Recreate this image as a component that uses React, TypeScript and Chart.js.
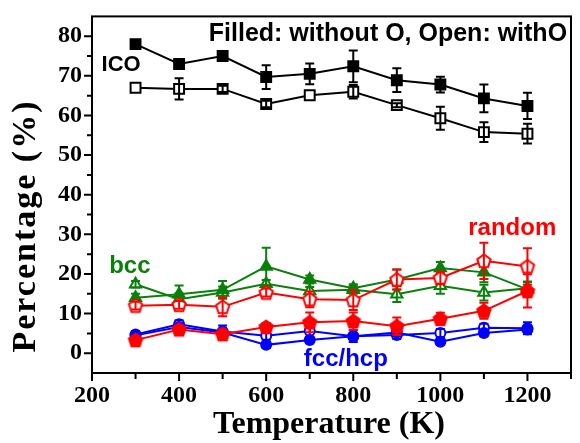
import { useEffect, useRef } from 'react';
import { Chart, registerables } from 'chart.js';

Chart.register(...registerables);

// ---- data ----
const temperatures = [300, 400, 500, 600, 700, 800, 900, 1000, 1100, 1200];

const icoWithoutO = [78.0, 73.0, 75.0, 69.7, 70.5, 72.4, 68.9, 67.8, 64.3, 62.4];
const icoWithoutOErr = [1.0, 1.0, 1.0, 3.0, 2.6, 4.0, 3.0, 2.0, 3.5, 3.3];
const icoWithO = [67.0, 66.7, 66.7, 62.9, 65.1, 66.0, 62.6, 59.3, 55.8, 55.4];
const icoWithOErr = [0, 2.7, 0.8, 0.8, 0, 1.7, 0.5, 2.9, 2.5, 2.5];

const bccWithoutO = [14.0, 14.9, 16.0, 21.9, 18.6, 16.4, 18.6, 21.5, 20.4, 16.1];
const bccWithoutOErr = [1.0, 2.2, 2.2, 4.7, 1.0, 1.0, 2.5, 1.5, 2.5, 2.0];
const bccWithO = [17.4, 13.6, 15.3, 17.5, 15.7, 16.0, 14.9, 17.0, 15.3, 16.4];
const bccWithOErr = [0.8, 1.5, 1.5, 1.0, 1.0, 1.0, 2.0, 2.0, 2.0, 1.5];

const randomWithoutO = [3.3, 6.0, 4.8, 6.6, 7.8, 8.1, 6.8, 8.7, 10.7, 15.7];
const randomWithoutOErr = [1.0, 1.0, 1.2, 1.0, 2.5, 2.2, 2.2, 1.5, 2.0, 4.2];
const randomWithO = [12.0, 12.2, 11.7, 15.3, 13.6, 13.4, 18.6, 19.0, 23.3, 21.9];
const randomWithOErr = [1.0, 1.0, 2.4, 1.0, 2.0, 2.5, 2.5, 1.5, 4.6, 4.6];

const fccWithoutO = [4.5, 6.6, 5.2, 2.1, 3.3, 4.3, 5.2, 2.9, 5.1, 6.0];
const fccWithoutOErr = [0.8, 0.8, 0.8, 0.8, 0.8, 0.8, 0.8, 0.8, 0.8, 0.8];
const fccWithO = [4.7, 7.3, 5.5, 4.4, 5.6, 4.3, 4.6, 5.1, 6.4, 6.3];
const fccWithOErr = [0.8, 1.0, 1.5, 1.0, 1.5, 1.5, 1.0, 1.0, 1.0, 1.5];

const xTickValues = [200, 300, 400, 500, 600, 700, 800, 900, 1000, 1100, 1200, 1300];
const xTickLabels = ['200', '', '400', '', '600', '', '800', '', '1000', '', '1200', ''];
const yTickValues = [0, 5, 10, 15, 20, 25, 30, 35, 40, 45, 50, 55, 60, 65, 70, 75, 80];
const yTickLabels = ['0', '', '10', '', '20', '', '30', '', '40', '', '50', '', '60', '', '70', '', '80'];

const xTitle = 'Temperature (K)';
const yTitle = 'Percentage (%)';
const legendNote = 'Filled: without O, Open: withO';
const labelICO = 'ICO';
const labelBcc = 'bcc';
const labelRandom = 'random';
const labelFcc = 'fcc/hcp';

const BLACK = '#000000';
const GREEN = '#0a800a';
const RED = '#ff0000';
const BLUE = '#0000ff';

const SERIF = "'Liberation Serif', 'Times New Roman', serif";
const SANS = "'Liberation Sans', Arial, sans-serif";

function pentagon(fill: string, stroke: string): HTMLCanvasElement {
  const s = 18;
  const c = document.createElement('canvas');
  c.width = s;
  c.height = s;
  const ctx = c.getContext('2d')!;
  const r = 7;
  ctx.beginPath();
  for (let i = 0; i < 5; i++) {
    const a = -Math.PI / 2 + (i * 2 * Math.PI) / 5;
    const x = s / 2 + r * Math.cos(a);
    const y = s / 2 + 0.5 + r * Math.sin(a);
    if (i === 0) ctx.moveTo(x, y);
    else ctx.lineTo(x, y);
  }
  ctx.closePath();
  ctx.fillStyle = fill;
  ctx.fill();
  ctx.lineWidth = 2;
  ctx.strokeStyle = stroke;
  ctx.stroke();
  return c;
}

function series(
  label: string,
  values: number[],
  errors: number[],
  color: string,
  open: boolean,
  pointStyle: any,
  radius: number
) {
  return {
    label,
    data: temperatures.map((t, i) => ({ x: t, y: values[i] })),
    errors,
    borderColor: color,
    borderWidth: 2,
    pointStyle,
    pointRadius: radius,
    pointHoverRadius: radius,
    pointBackgroundColor: open ? '#ffffff' : color,
    pointBorderColor: color,
    pointBorderWidth: 2,
    fill: false,
    tension: 0,
  };
}

const errorBarPlugin = {
  id: 'errorBars',
  afterDatasetDraw(chart: any, args: any) {
    const ds = chart.data.datasets[args.index];
    const errs: number[] = ds.errors;
    if (!errs) return;
    const ctx = chart.ctx;
    const xs = chart.scales.x;
    const ys = chart.scales.y;
    ctx.save();
    ctx.strokeStyle = ds.borderColor;
    ctx.lineWidth = 2;
    ds.data.forEach((p: any, i: number) => {
      const e = errs[i];
      if (!e) return;
      const x = xs.getPixelForValue(p.x);
      const yt = ys.getPixelForValue(p.y + e);
      const yb = ys.getPixelForValue(p.y - e);
      ctx.beginPath();
      ctx.moveTo(x, yt);
      ctx.lineTo(x, yb);
      ctx.moveTo(x - 4.5, yt);
      ctx.lineTo(x + 4.5, yt);
      ctx.moveTo(x - 4.5, yb);
      ctx.lineTo(x + 4.5, yb);
      ctx.stroke();
    });
    ctx.restore();
  },
};

const framePlugin = {
  id: 'frameAndText',
  afterDraw(chart: any) {
    const ctx = chart.ctx;
    const { left, right, top, bottom } = chart.chartArea;
    const xs = chart.scales.x;
    const ys = chart.scales.y;
    ctx.save();
    ctx.strokeStyle = BLACK;
    ctx.lineWidth = 2;
    ctx.strokeRect(left, top, right - left, bottom - top);
    ctx.beginPath();
    xTickValues.forEach((v, i) => {
      const x = xs.getPixelForValue(v);
      const len = xTickLabels[i] ? 8 : 6;
      ctx.moveTo(x, bottom);
      ctx.lineTo(x, bottom + len);
    });
    yTickValues.forEach((v, i) => {
      const y = ys.getPixelForValue(v);
      const len = yTickLabels[i] ? 8 : 5;
      ctx.moveTo(left, y);
      ctx.lineTo(left - len, y);
    });
    ctx.stroke();

    // axis titles
    ctx.fillStyle = BLACK;
    ctx.font = `bold 32px ${SERIF}`;
    ctx.textAlign = 'center';
    ctx.textBaseline = 'alphabetic';
    ctx.fillText(xTitle, 329, 433);
    ctx.save();
    ctx.font = `bold 34px ${SERIF}`;
    ctx.translate(35, 226);
    ctx.rotate(-Math.PI / 2);
    (ctx as any).letterSpacing = '2px';
    ctx.fillText(yTitle, 0, 0);
    (ctx as any).letterSpacing = '0px';
    ctx.restore();

    // annotations
    const put = (text: string, t: number, v: number, color: string, size: number, align: CanvasTextAlign) => {
      ctx.font = `bold ${size}px ${SANS}`;
      ctx.fillStyle = color;
      ctx.textAlign = align;
      ctx.fillText(text, xs.getPixelForValue(t), ys.getPixelForValue(v));
    };
    put(legendNote, 1291, 78.7, BLACK, 25, 'right');
    put(labelICO, 267, 71.1, BLACK, 22, 'center');
    put(labelBcc, 287, 20.2, GREEN, 24, 'center');
    put(labelRandom, 1165, 29.8, RED, 24, 'center');
    put(labelFcc, 783, -3.3, BLUE, 24, 'center');
    ctx.restore();
  },
};

export default function App() {
  const ref = useRef<HTMLCanvasElement | null>(null);

  useEffect(() => {
    if (!ref.current) return;
    const redFilled = pentagon(RED, RED);
    const redOpen = pentagon('#ffffff', RED);
    const chart = new Chart(ref.current, {
      type: 'line',
      data: {
        datasets: [
          series('random without O', randomWithoutO, randomWithoutOErr, RED, false, redFilled, 7),
          series('random with O', randomWithO, randomWithOErr, RED, true, redOpen, 7),
          series('bcc without O', bccWithoutO, bccWithoutOErr, GREEN, false, 'triangle', 6.5),
          series('bcc with O', bccWithO, bccWithOErr, GREEN, true, 'triangle', 6.5),
          series('fcc/hcp without O', fccWithoutO, fccWithoutOErr, BLUE, false, 'circle', 5),
          series('fcc/hcp with O', fccWithO, fccWithOErr, BLUE, true, 'circle', 5),
          series('ICO without O', icoWithoutO, icoWithoutOErr, BLACK, false, 'rect', 7),
          series('ICO with O', icoWithO, icoWithOErr, BLACK, true, 'rect', 7),
        ] as any,
      },
      options: {
        responsive: false,
        animation: false,
        events: [],
        layout: { padding: { top: 10, right: 2, left: 0, bottom: 0 } },
        plugins: {
          legend: { display: false },
          tooltip: { enabled: false },
          title: { display: false },
        },
        scales: {
          x: {
            type: 'linear',
            min: 200,
            max: 1300,
            afterFit: (s: any) => {
              s.height = 70;
            },
            afterBuildTicks: (s: any) => {
              s.ticks = xTickValues.map((v) => ({ value: v }));
            },
            ticks: {
              autoSkip: false,
              maxRotation: 0,
              padding: 0,
              color: BLACK,
              font: { family: SERIF, size: 24, weight: 'bold' },
              callback: (v: any) => {
                const i = xTickValues.indexOf(Number(v));
                return i >= 0 ? xTickLabels[i] : '';
              },
            },
            grid: { display: true, drawOnChartArea: false, drawTicks: true, tickLength: 8, tickColor: 'rgba(0,0,0,0)' },
            border: { display: false },
          },
          y: {
            type: 'linear',
            min: -5,
            max: 85,
            afterFit: (s: any) => {
              s.width = 92;
            },
            afterBuildTicks: (s: any) => {
              s.ticks = yTickValues.map((v) => ({ value: v }));
            },
            ticks: {
              autoSkip: false,
              padding: 2,
              color: BLACK,
              font: { family: SERIF, size: 24, weight: 'bold' },
              callback: (v: any) => {
                const i = yTickValues.indexOf(Number(v));
                return i >= 0 ? yTickLabels[i] : '';
              },
            },
            grid: { display: true, drawOnChartArea: false, drawTicks: true, tickLength: 8, tickColor: 'rgba(0,0,0,0)' },
            border: { display: false },
          },
        },
      },
      plugins: [errorBarPlugin, framePlugin],
    });
    return () => chart.destroy();
  }, []);

  return (
    <div style={{ position: 'absolute', left: 0, top: 0, width: 580, height: 443, background: '#ffffff' }}>
      <canvas ref={ref} width={580} height={443} style={{ display: 'block' }} />
    </div>
  );
}
